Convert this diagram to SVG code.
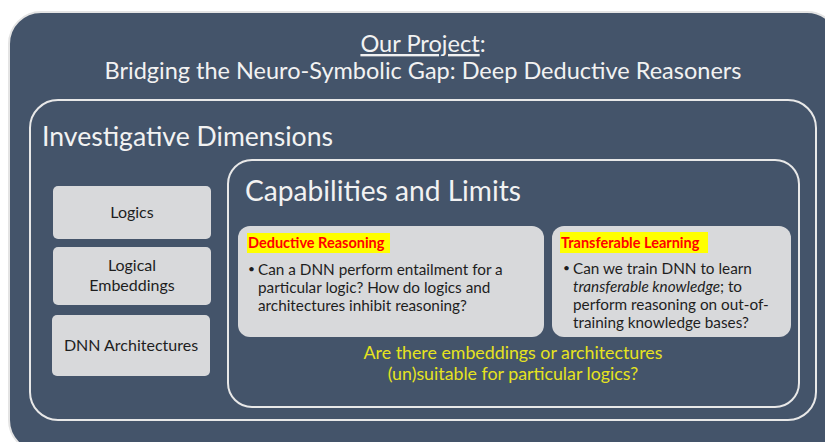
<svg xmlns="http://www.w3.org/2000/svg" width="825" height="442" viewBox="0 0 825 442">
<style>
.bg{fill:#44546a;stroke:#e4e4e4;stroke-width:2}
.frame{fill:none;stroke:#e8e8e8;stroke-width:2}
.box{fill:#d8d9db;stroke:none}
.t{font-family:Lato,"Open Sans",sans-serif;fill:#f2f2f2}
.lbl{font-family:Lato,"Open Sans",sans-serif;fill:#1e1e1e;font-size:16px}
.bt{font-family:Lato,"Open Sans",sans-serif;fill:#1e1e1e;font-size:15.3px}
.bul{font-family:Lato,"Open Sans",sans-serif;fill:#1e1e1e;font-size:12px}
.hd{font-family:Lato,"Open Sans",sans-serif;fill:#ff0000;font-size:14.5px;font-weight:bold}
.hl{fill:#ffff00}
.q{font-family:Lato,"Open Sans",sans-serif;fill:#e6e31e;font-size:17.8px}
</style>
<rect width="825" height="442" fill="#ffffff"/>
<g id="project">
<rect class="bg" x="9" y="12" width="830" height="440" rx="32"/>
<text class="t" x="423" y="52" text-anchor="middle" font-size="23.6"><tspan text-decoration="underline">Our Project</tspan>:</text>
<text class="t" x="423" y="79" text-anchor="middle" font-size="23.6" textLength="637" lengthAdjust="spacingAndGlyphs">Bridging the Neuro-Symbolic Gap: Deep Deductive Reasoners</text>
</g>
<g id="investigative">
<rect class="frame" x="30" y="100" width="786" height="320" rx="28"/>
<text class="t" x="42" y="146" font-size="27" textLength="291" lengthAdjust="spacingAndGlyphs">Investigative Dimensions</text>
</g>
<g id="logics">
<rect class="box" x="53" y="186" width="158" height="53" rx="5"/>
<text class="lbl" x="132" y="218" text-anchor="middle">Logics</text>
</g>
<g id="embeddings">
<rect class="box" x="53" y="247" width="158" height="58" rx="5"/>
<text class="lbl" x="132" y="271" text-anchor="middle">Logical</text>
<text class="lbl" x="132" y="291" text-anchor="middle">Embeddings</text>
</g>
<g id="architectures">
<rect class="box" x="52" y="315" width="158" height="61" rx="5"/>
<text class="lbl" x="131" y="351" text-anchor="middle">DNN Architectures</text>
</g>
<g id="capabilities">
<rect class="frame" x="228" y="160" width="571" height="247" rx="24"/>
<text class="t" x="245" y="201" font-size="28" textLength="276" lengthAdjust="spacingAndGlyphs">Capabilities and Limits</text>
<text class="q" x="513" y="359" text-anchor="middle">Are there embeddings or architectures</text>
<text class="q" x="513" y="380" text-anchor="middle">(un)suitable for particular logics?</text>
</g>
<g id="deductive">
<rect class="box" x="238" y="226" width="306" height="111" rx="12"/>
<rect class="hl" x="247" y="233" width="143" height="20"/>
<text class="hd" x="248" y="248">Deductive Reasoning</text>
<text class="bul" x="248" y="273">•</text>
<text class="bt" x="258" y="275">Can a DNN perform entailment for a</text>
<text class="bt" x="258" y="293">particular logic? How do logics and</text>
<text class="bt" x="258" y="311">architectures inhibit reasoning?</text>
</g>
<g id="transferable">
<rect class="box" x="552" y="226" width="239" height="111" rx="12"/>
<rect class="hl" x="560" y="232" width="148" height="21"/>
<text class="hd" x="561" y="248">Transferable Learning</text>
<text class="bul" x="563" y="272">•</text>
<text class="bt" x="573" y="274">Can we train DNN to learn</text>
<text class="bt" x="573" y="292"><tspan font-style="italic">transferable knowledge</tspan>; to</text>
<text class="bt" x="573" y="310">perform reasoning on out-of-</text>
<text class="bt" x="573" y="328">training knowledge bases?</text>
</g>
</svg>
